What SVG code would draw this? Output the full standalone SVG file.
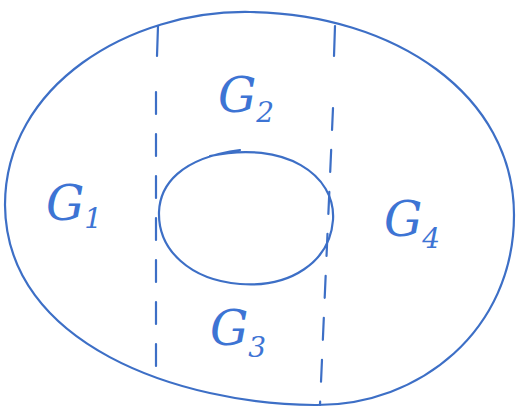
<svg xmlns="http://www.w3.org/2000/svg" width="518" height="410" viewBox="0 0 518 410">
<style>
.ln{fill:none;stroke:#3d6fc6;stroke-width:2.2;stroke-linecap:round}
.ds{fill:none;stroke:#3d6fc6;stroke-width:2.2;stroke-linecap:round;stroke-dasharray:22 20}
.lb{font-family:"DejaVu Serif","Liberation Serif",serif;font-style:italic;fill:#3d74d4;font-size:48px}
.sb{font-size:28px}
</style>
<rect width="518" height="410" fill="#fff"/>
<g id="outer"><path class="ln" d="M250 12 C395 14 514 95 514 215 C514 330 420 406 315 405 C180 404 6 345 5 205 C5 85 130 10 250 12 Z"/></g>
<g id="inner"><path class="ln" d="M210 156 C285 140 336 175 333 220 C330 262 290 288 240 284 C190 280 158 250 159 212 C160 185 180 158 240 150"/></g>
<g id="connectors">
<path class="ln" d="M158 26 L157 56"/>
<path class="ds" d="M156 92 L156 375"/>
<path class="ln" d="M335 26 L334 56"/>
<path class="ds" d="M333 108 L320 405"/>
</g>
<g id="G1"><text class="lb" x="46" y="220">G<tspan class="sb" dy="8">1</tspan></text></g>
<g id="G2"><text class="lb" x="218" y="112">G<tspan class="sb" dy="10">2</tspan></text></g>
<g id="G3"><text class="lb" x="210" y="345">G<tspan class="sb" dy="12">3</tspan></text></g>
<g id="G4"><text class="lb" x="384" y="236">G<tspan class="sb" dy="12">4</tspan></text></g>
</svg>
